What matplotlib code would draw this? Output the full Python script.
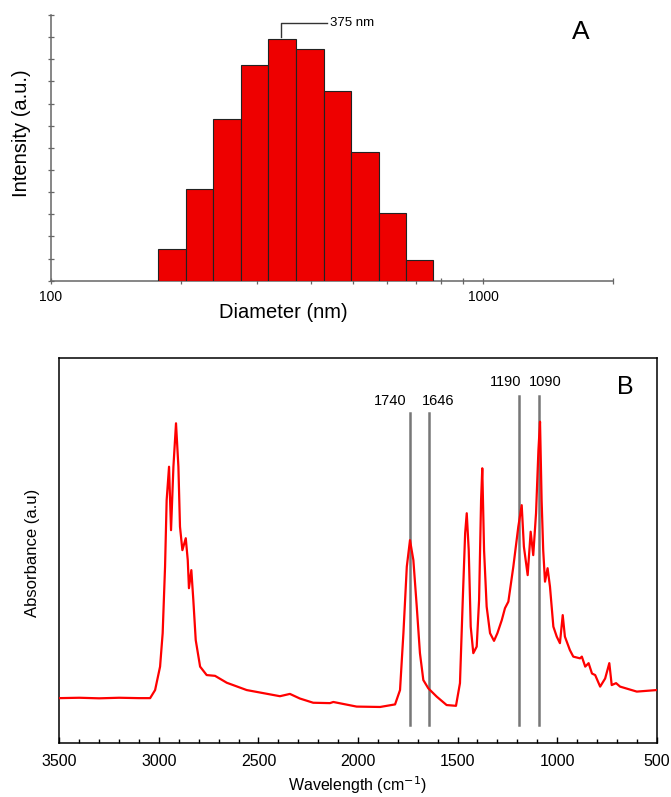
import matplotlib
matplotlib.use("Agg")
import matplotlib.pyplot as plt
from matplotlib.ticker import FixedLocator, NullFormatter

plt.rcParams["font.family"] = ["Liberation Sans", "DejaVu Sans"]

# --- Panel A: size distribution (log diameter bins) ---
BIN_EDGES = [177, 205, 237, 275, 318, 368, 428, 495, 573, 663, 767]
INTENSITY = [1.43, 4.15, 7.29, 9.74, 10.92, 10.45, 8.57, 5.83, 3.08, 0.95]
PEAK_LABEL = "375 nm"

# --- Panel B: FTIR spectrum (absorbance in arbitrary units) ---
WAVENUMBER = [3500, 3400, 3300, 3200, 3100, 3044, 3019, 2994, 2981, 2969, 2961,
              2949, 2939, 2927, 2914, 2902, 2894, 2882, 2865, 2855, 2849, 2837,
              2827, 2815, 2793, 2760, 2718, 2659, 2559, 2392, 2342, 2292, 2225,
              2141, 2124, 2007, 1889, 1814, 1789, 1772, 1755, 1739, 1722, 1705,
              1689, 1672, 1647, 1605, 1555, 1508, 1488, 1474, 1462, 1454, 1444,
              1434, 1421, 1404, 1392, 1382, 1376, 1367, 1354, 1337, 1317, 1300,
              1278, 1262, 1245, 1220, 1195, 1178, 1167, 1148, 1133, 1120, 1106,
              1094, 1086, 1078, 1070, 1061, 1048, 1036, 1019, 1002, 986, 972,
              961, 936, 919, 885, 876, 859, 842, 825, 809, 784, 759, 738, 726,
              704, 684, 600, 500]
ABSORBANCE = [0.116, 0.117, 0.1155, 0.117, 0.116, 0.116, 0.137, 0.198, 0.285,
              0.458, 0.631, 0.718, 0.553, 0.718, 0.831, 0.718, 0.562, 0.501,
              0.532, 0.475, 0.402, 0.449, 0.371, 0.267, 0.198, 0.176, 0.174,
              0.156, 0.137, 0.121, 0.127, 0.115, 0.104, 0.103, 0.106, 0.094,
              0.093, 0.0997, 0.137, 0.285, 0.458, 0.527, 0.475, 0.354, 0.233,
              0.163, 0.1415, 0.120, 0.098, 0.096, 0.155, 0.371, 0.545, 0.597,
              0.501, 0.302, 0.233, 0.250, 0.371, 0.631, 0.714, 0.501, 0.354,
              0.285, 0.265, 0.285, 0.319, 0.350, 0.367, 0.458, 0.562, 0.618,
              0.510, 0.436, 0.549, 0.488, 0.597, 0.761, 0.835, 0.631, 0.501,
              0.419, 0.454, 0.406, 0.302, 0.276, 0.259, 0.332, 0.276, 0.241,
              0.224, 0.2195, 0.224, 0.198, 0.207, 0.180, 0.176, 0.146, 0.167,
              0.207, 0.150, 0.155, 0.146, 0.133, 0.137]
BANDS = [1740, 1646, 1190, 1090]
BAND_LABEL_X = [1837, 1599, 1259, 1061]

fig = plt.figure(figsize=(6.71, 7.97), dpi=100)

# ---------------- A ----------------
axA = fig.add_axes([0.076, 0.6478, 0.838, 0.3334])
widths = [r - l for l, r in zip(BIN_EDGES[:-1], BIN_EDGES[1:])]
axA.bar(BIN_EDGES[:-1], INTENSITY, width=widths, align="edge",
        color="#ee0000", edgecolor="#222222", linewidth=0.8, zorder=3)
axA.set_xscale("log")
axA.set_xlim(100, 2000)
axA.set_ylim(0, 12)
for s in ("top", "right"):
    axA.spines[s].set_visible(False)
for s in ("left", "bottom"):
    axA.spines[s].set_color("#666666")
    axA.spines[s].set_linewidth(1.1)
axA.set_yticks(range(0, 13))
axA.set_yticklabels([])
axA.xaxis.set_major_locator(FixedLocator([100, 1000]))
axA.xaxis.set_minor_locator(FixedLocator([200, 300, 400, 500, 600, 700, 800, 900, 2000]))
axA.xaxis.set_minor_formatter(NullFormatter())
axA.set_xticklabels(["100", "1000"])
axA.tick_params(axis="both", which="both", direction="inout", length=4,
                width=0.9, color="#666666", labelsize=10)
axA.tick_params(axis="x", pad=5)

# peak bracket
ytop = 11.65
axA.plot([340, 340, 436], [11.0, ytop, ytop], color="#333333", lw=1.0,
         clip_on=False, zorder=4)
axA.text(443, ytop, PEAK_LABEL, fontsize=9.5, va="center", ha="left")

fig.text(0.865, 0.9596, "A", fontsize=19, ha="center", va="center")
fig.text(0.422, 0.6085, "Diameter (nm)", fontsize=14.5, ha="center", va="center")
fig.text(0.032, 0.8327, "Intensity (a.u.)", fontsize=14.5, rotation=90,
         ha="center", va="center")

# ---------------- B ----------------
axB = fig.add_axes([0.0884, 0.0681, 0.8903, 0.4823])
axB.plot(WAVENUMBER, ABSORBANCE, color="#ff0000", lw=1.6, zorder=3)
axB.set_xlim(3500, 500)
axB.set_ylim(0, 1)
axB.set_yticks([])
axB.set_xticks(range(3500, 499, -500))
axB.xaxis.set_minor_locator(FixedLocator(range(3500, 499, -100)))
axB.tick_params(axis="x", which="major", direction="in", length=4, width=1,
                labelsize=11.5, pad=8)
axB.tick_params(axis="x", which="minor", direction="in", length=3, width=1)
for s in axB.spines.values():
    s.set_linewidth(1.1)

for i, (b, lx) in enumerate(zip(BANDS, BAND_LABEL_X)):
    top = 0.857 if i < 2 else 0.903
    ly = 0.890 if i < 2 else 0.939
    axB.plot([b, b], [0.045, top], color="#777777", lw=1.8, zorder=2)
    axB.text(lx, ly, str(b), fontsize=10.5, ha="center", va="center")

axB.text(658, 0.926, "B", fontsize=18, ha="center", va="center")
axB.set_xlabel("Wavelength (cm$^{-1}$)", fontsize=11.5, labelpad=4)
fig.text(0.0477, 0.3061, "Absorbance (a.u)", fontsize=12, rotation=90,
         ha="center", va="center")

fig.savefig("out.png", dpi=100)
